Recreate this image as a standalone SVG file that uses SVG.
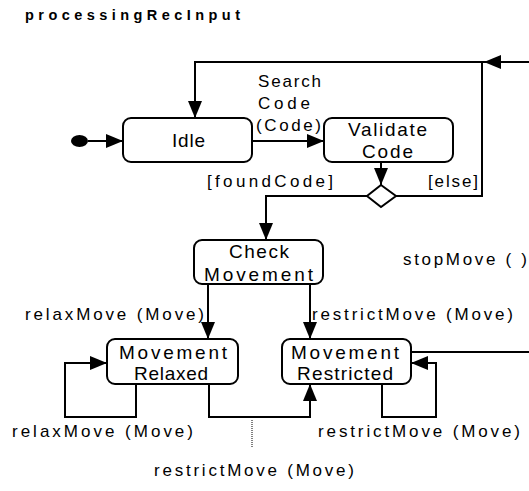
<svg xmlns="http://www.w3.org/2000/svg" width="529" height="491" viewBox="0 0 529 491">
<style>
text{font-family:"Liberation Sans",Arial,sans-serif;fill:#000}
.t{font-size:14.5px;font-weight:bold}
.n{font-size:19px}
.l{font-size:17px}
.box{fill:#fff;stroke:#000;stroke-width:2}
.c{fill:none;stroke:#000;stroke-width:2}
.d{fill:none;stroke:#000;stroke-width:1;stroke-dasharray:1 1}
</style>
<defs>
<marker id="ah" markerWidth="17" markerHeight="14" refX="17" refY="7" orient="auto" markerUnits="userSpaceOnUse">
<path d="M0,0 L17,7 L0,14 Z" fill="#000"/>
</marker>
</defs>
<rect width="529" height="491" fill="#fff"/>
<text class="t" x="25" y="20" textLength="215" lengthAdjust="spacing">processingRecInput</text>
<g id="connectors">
<path class="c" d="M88,141 L123,141" marker-end="url(#ah)"/>
<path class="c" d="M252,141 L324,141" marker-end="url(#ah)"/>
<path class="c" d="M381,162 L381,185" marker-end="url(#ah)"/>
<path class="c" d="M368,196 L266,196 L266,240" marker-end="url(#ah)"/>
<path class="c" d="M396,196 L482,196 L482,62"/>
<path class="c" d="M529,62 L484,62" marker-end="url(#ah)"/>
<path class="c" d="M484,62 L195,62 L195,118" marker-end="url(#ah)"/>
<path class="c" d="M208,284 L208,339" marker-end="url(#ah)"/>
<path class="c" d="M310,284 L310,339" marker-end="url(#ah)"/>
<path class="c" d="M136,384 L136,417 L65,417 L65,363 L107,363" marker-end="url(#ah)"/>
<path class="c" d="M382,384 L382,417 L436,417 L436,363 L411,363" marker-end="url(#ah)"/>
<path class="c" d="M209,384 L209,417 L310,417 L310,384" marker-end="url(#ah)"/>
<path class="c" d="M411,352 L529,352"/>
<path class="d" d="M252,420 L252,448"/>
</g>
<g id="initial"><ellipse cx="79.5" cy="141" rx="8.5" ry="6" fill="#000"/></g>
<g id="idle">
<rect class="box" x="123" y="118" width="129" height="44" rx="8"/>
<text class="n" x="172" y="147" textLength="33" lengthAdjust="spacing">Idle</text>
</g>
<g id="validate">
<rect class="box" x="324" y="118" width="129" height="44" rx="8"/>
<text class="n" x="348" y="136" textLength="79" lengthAdjust="spacing">Validate</text>
<text class="n" x="362" y="158" textLength="51" lengthAdjust="spacing">Code</text>
</g>
<g id="decision"><path class="box" d="M381,185 L396,196 L381,207 L367,196 Z"/></g>
<g id="check">
<rect class="box" x="194" y="240" width="129" height="44" rx="8"/>
<text class="n" x="229" y="258" textLength="60" lengthAdjust="spacing">Check</text>
<text class="n" x="204" y="281" textLength="109" lengthAdjust="spacing">Movement</text>
</g>
<g id="relaxed">
<rect class="box" x="107" y="339" width="131" height="45" rx="8"/>
<text class="n" x="119" y="359" textLength="108" lengthAdjust="spacing">Movement</text>
<text class="n" x="134" y="380" textLength="74" lengthAdjust="spacing">Relaxed</text>
</g>
<g id="restricted">
<rect class="box" x="282" y="339" width="129" height="45" rx="8"/>
<text class="n" x="291" y="359" textLength="108" lengthAdjust="spacing">Movement</text>
<text class="n" x="297" y="380" textLength="96" lengthAdjust="spacing">Restricted</text>
</g>
<g id="labels">
<text class="l" x="258" y="87" textLength="63" lengthAdjust="spacing">Search</text>
<text class="l" x="258" y="109" textLength="52" lengthAdjust="spacing">Code</text>
<text class="l" x="256" y="131" textLength="65" lengthAdjust="spacing">(Code)</text>
<text class="l" x="207" y="187" textLength="126" lengthAdjust="spacing">[foundCode]</text>
<text class="l" x="428" y="187" textLength="50" lengthAdjust="spacing">[else]</text>
<text class="l" x="403" y="265" textLength="124" lengthAdjust="spacing">stopMove ( )</text>
<text class="l" x="25" y="320" textLength="179" lengthAdjust="spacing">relaxMove (Move)</text>
<text class="l" x="312" y="320" textLength="201" lengthAdjust="spacing">restrictMove (Move)</text>
<text class="l" x="12" y="437" textLength="181" lengthAdjust="spacing">relaxMove (Move)</text>
<text class="l" x="318" y="437" textLength="202" lengthAdjust="spacing">restrictMove (Move)</text>
<text class="l" x="154" y="476" textLength="200" lengthAdjust="spacing">restrictMove (Move)</text>
</g>
</svg>
